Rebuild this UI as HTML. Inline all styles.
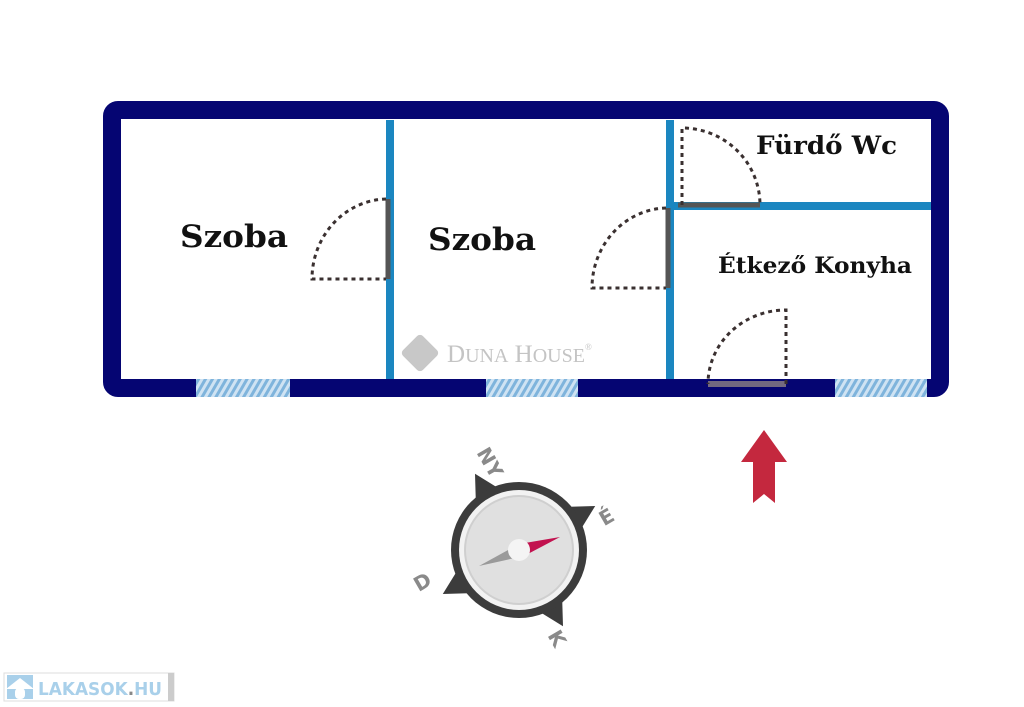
<!DOCTYPE html>
<html><head><style>body{margin:0;background:#fff}svg{display:block}</style></head><body>
<svg width="1024" height="707" viewBox="0 0 1024 707" xmlns="http://www.w3.org/2000/svg">
<defs>
<pattern id="h" width="6" height="6" patternUnits="userSpaceOnUse" patternTransform="rotate(30)">
<rect width="6" height="6" fill="#cfe3f3"/><rect width="3" height="6" fill="#7fb4dc"/></pattern>
</defs>
<rect x="112" y="110" width="828" height="278" rx="6" fill="none" stroke="#050572" stroke-width="18"/>
<rect x="196" y="379" width="94" height="18" fill="url(#h)"/>
<rect x="486" y="379" width="92" height="18" fill="url(#h)"/>
<rect x="835" y="379" width="92" height="18" fill="url(#h)"/>
<g fill="#1b86c0">
<rect x="386" y="120" width="8" height="259"/>
<rect x="666" y="120" width="8" height="259"/>
<rect x="674" y="202" width="257" height="8"/>
</g>
<g stroke="#555" stroke-width="5">
<line x1="388" y1="199" x2="388" y2="279"/>
<line x1="668" y1="208" x2="668" y2="288"/>
<line x1="678" y1="205" x2="760" y2="205"/>
</g>
<line x1="708" y1="384" x2="786" y2="384" stroke="#736a80" stroke-width="6"/>
<g fill="none" stroke="#3a3030" stroke-width="3" stroke-dasharray="4 4">
<path d="M386 199 A76 80 0 0 0 312 279 L386 279"/>
<path d="M666 208 A76 80 0 0 0 592 288 L666 288"/>
<path d="M682 205 L682 128 A78 77 0 0 1 760 205"/>
<path d="M786 384 L786 310 A78 74 0 0 0 708 384"/>
</g>
<g font-family="DejaVu Serif, serif" font-weight="bold" fill="#111">
<text x="180" y="247" font-size="31" textLength="108" lengthAdjust="spacingAndGlyphs">Szoba</text>
<text x="428" y="250" font-size="31" textLength="108" lengthAdjust="spacingAndGlyphs">Szoba</text>
<text x="756" y="154" font-size="25" textLength="141" lengthAdjust="spacingAndGlyphs">Fürdő Wc</text>
<text x="718" y="273" font-size="22" textLength="194" lengthAdjust="spacingAndGlyphs">Étkező Konyha</text>
</g>
<g transform="translate(420,353)"><rect x="-14" y="-14" width="28" height="28" rx="4" transform="rotate(45)" fill="#c8c8c8"/></g>
<text x="447" y="362" font-family="Liberation Serif, serif" font-size="25" fill="#c4c4c4">D<tspan font-size="20">UNA</tspan> H<tspan font-size="20">OUSE</tspan><tspan font-size="9" dy="-12">®</tspan></text>
<polygon points="764,430 787,462 775,462 775,503 764,494 753,503 753,462 741,462" fill="#c4283e"/>
<g transform="translate(519,550) rotate(-30)">
<polygon points="0,-88 -14,-62 14,-62" fill="#3c3c3c"/>
<polygon points="0,88 -14,62 14,62" fill="#3c3c3c"/>
<polygon points="88,0 62,-14 62,14" fill="#3c3c3c"/>
<polygon points="-88,0 -62,-14 -62,14" fill="#3c3c3c"/>
</g>
<circle cx="519" cy="550" r="68" fill="#3c3c3c"/>
<circle cx="519" cy="550" r="60" fill="#f2f2f2"/>
<circle cx="519" cy="550" r="54" fill="#e0e0e0" stroke="#cfcfcf" stroke-width="2"/>
<polygon points="560,537 519,544 524,556" fill="#c2124f"/>
<polygon points="479,566 519,544 524,556" fill="#9a9a9a"/>
<circle cx="519" cy="550" r="11" fill="#f4f4f4"/>
<g font-family="DejaVu Sans, sans-serif" font-weight="bold" font-size="20" fill="#8a8a8a">
<text x="484" y="466" transform="rotate(60 484 466)" text-anchor="middle">NY</text>
<text x="610" y="523" transform="rotate(-30 610 523)" text-anchor="middle">É</text>
<text x="426" y="588" transform="rotate(-30 426 588)" text-anchor="middle">D</text>
<text x="551" y="642" transform="rotate(60 551 642)" text-anchor="middle">K</text>
</g>
<rect x="4" y="673" width="170" height="28" fill="#fff" stroke="#ddd" stroke-width="1"/>
<rect x="168" y="673" width="6" height="28" fill="#ccc"/>
<rect x="7" y="675" width="26" height="24" fill="#a9d0ea"/>
<polygon points="6,689 20,678 34,689" fill="#fff"/>
<rect x="15" y="688" width="10" height="11" rx="4" fill="#fff"/>
<text x="38" y="695" font-family="DejaVu Sans, sans-serif" font-weight="bold" font-size="18" fill="#a9d0ea" textLength="124" lengthAdjust="spacingAndGlyphs">LAKASOK<tspan fill="#888">.</tspan>HU</text>
</svg>
</body></html>
